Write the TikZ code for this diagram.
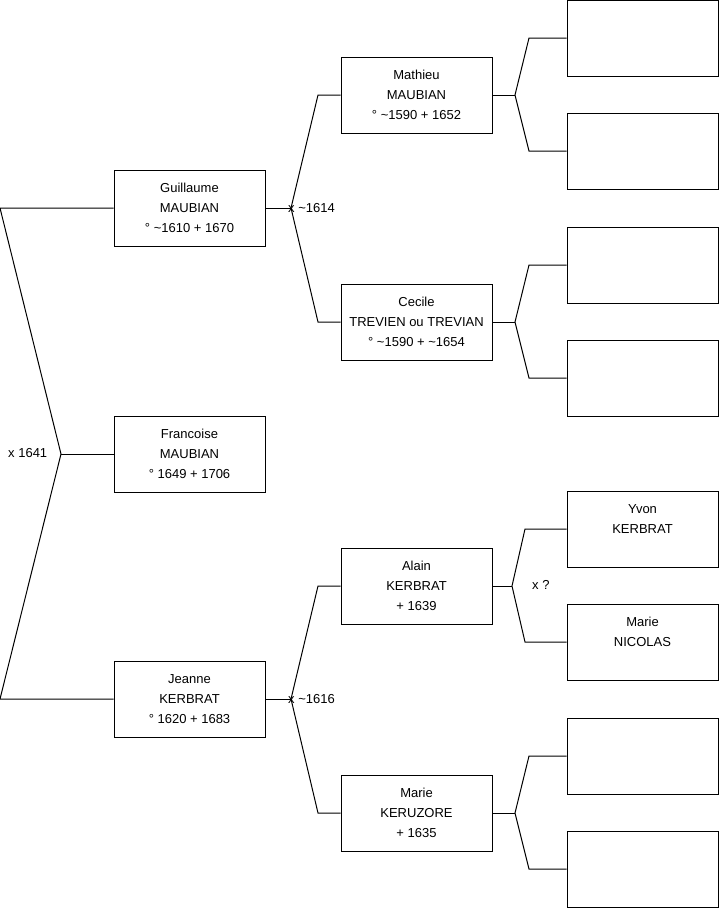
\documentclass[tikz,border=0pt]{standalone}
\usepackage{fontspec}
\setmainfont{Liberation Sans}
\begin{document}
\begin{tikzpicture}[x=1pt,y=-1pt,
  person/.style={draw,rectangle,minimum width=151pt,minimum height=76pt,inner sep=0pt,align=center,font=\fontsize{13}{20}\selectfont},
  union/.style={anchor=west,inner sep=0pt,font=\fontsize{13}{20}\selectfont}]

\useasboundingbox (0,0) rectangle (719,908);

\begin{scope}[line width=1pt]
% generation 1
\node[person] (gu) at (189.5,208) {Guillaume\\MAUBIAN\\° \textasciitilde1610 + 1670};
\node[person] (fr) at (189.5,454) {Francoise\\MAUBIAN\\° 1649 + 1706};
\node[person] (je) at (189.5,699) {Jeanne\\KERBRAT\\° 1620 + 1683};

% generation 2
\node[person] (ma) at (416.5,95) {Mathieu\\MAUBIAN\\° \textasciitilde1590 + 1652};
\node[person] (ce) at (416.5,322) {Cecile\\TREVIEN ou TREVIAN\\° \textasciitilde1590 + \textasciitilde1654};
\node[person] (al) at (416.5,586) {Alain\\KERBRAT\\+ 1639};
\node[person] (mk) at (416.5,813) {Marie\\KERUZORE\\+ 1635};

% generation 3
\node[person] (e1) at (642.5,38) {};
\node[person] (e2) at (642.5,151) {};
\node[person] (e3) at (642.5,265) {};
\node[person] (e4) at (642.5,378) {};
\node[person] (yv) at (642.5,529) {Yvon\\KERBRAT\\\phantom{0}};
\node[person] (mn) at (642.5,642) {Marie\\NICOLAS\\\phantom{0}};
\node[person] (e5) at (642.5,756) {};
\node[person] (e6) at (642.5,869) {};
\end{scope}

% junctions
\coordinate (jf) at (61,454);
\coordinate (tf) at (0,208);
\coordinate (bf) at (0,699);
\coordinate (jgu) at (291,208);
\coordinate (tgu) at (318,95);
\coordinate (bgu) at (318,322);
\coordinate (jje) at (291,699);
\coordinate (tje) at (318,586);
\coordinate (bje) at (318,813);
\coordinate (jma) at (515,95);
\coordinate (tma) at (529,38);
\coordinate (bma) at (529,151);
\coordinate (jce) at (515,322);
\coordinate (tce) at (529,265);
\coordinate (bce) at (529,378);
\coordinate (jal) at (512,586);
\coordinate (tal) at (525,529);
\coordinate (bal) at (525,642);
\coordinate (jmk) at (515,813);
\coordinate (tmk) at (529,756);
\coordinate (bmk) at (529,869);

\begin{scope}[line width=1pt]
\draw (gu.west) -- (tf) -- (jf) -- (bf) -- (je.west);
\draw (fr.west) -- (jf);

\draw (gu.east) -- (jgu);
\draw (ma.west) -- (tgu) -- (jgu) -- (bgu) -- (ce.west);
\draw (je.east) -- (jje);
\draw (al.west) -- (tje) -- (jje) -- (bje) -- (mk.west);

\draw (ma.east) -- (jma);
\draw (e1.west) -- (tma) -- (jma) -- (bma) -- (e2.west);
\draw (ce.east) -- (jce);
\draw (e3.west) -- (tce) -- (jce) -- (bce) -- (e4.west);
\draw (al.east) -- (jal);
\draw (yv.west) -- (tal) -- (jal) -- (bal) -- (mn.west);
\draw (mk.east) -- (jmk);
\draw (e5.west) -- (tmk) -- (jmk) -- (bmk) -- (e6.west);
\end{scope}

% unions
\node[union] (u1) at (8,453) {x 1641};
\node[union] (u2) at (288,208) {x \textasciitilde1614};
\node[union] (u3) at (288,699) {x \textasciitilde1616};
\node[union] (u4) at (532,585) {x ?};

\end{tikzpicture}
\end{document}
